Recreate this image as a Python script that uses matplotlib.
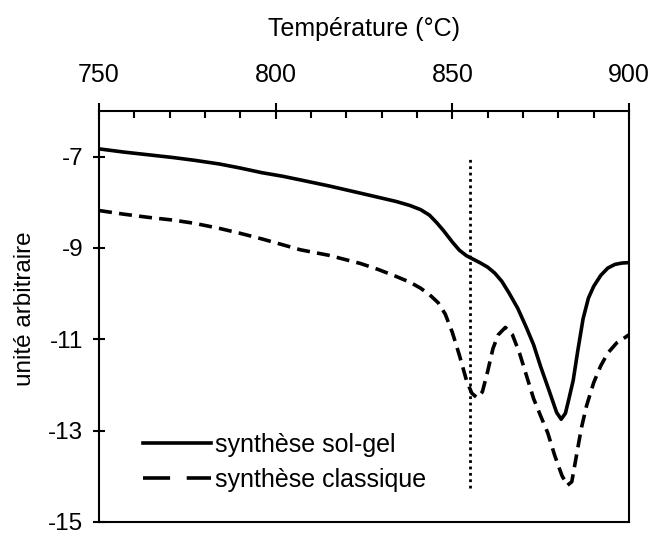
import numpy as np
import matplotlib.pyplot as plt
from matplotlib.ticker import MultipleLocator
from matplotlib.lines import Line2D

plt.rcParams['font.family'] = ['Liberation Sans', 'DejaVu Sans']

# sol-gel curve
temp_solgel = [750, 757, 764, 771, 777, 784, 790, 796, 802, 807, 815, 824, 829, 834, 838, 841,
               843.5, 845.5, 847.5, 850, 852, 854, 856, 858, 860, 862, 864, 866, 868.5, 871, 873,
               875, 877.5, 879.5, 880.8, 882, 883, 884.2, 885.5, 887, 888.5, 890, 892, 894, 896, 898, 900]
val_solgel = [-6.83, -6.90, -6.96, -7.02, -7.08, -7.16, -7.25, -7.35, -7.43, -7.51, -7.64, -7.80,
              -7.89, -7.98, -8.07, -8.16, -8.28, -8.44, -8.62, -8.87, -9.05, -9.17, -9.25, -9.33,
              -9.42, -9.55, -9.73, -9.98, -10.32, -10.75, -11.12, -11.60, -12.15, -12.60, -12.75,
              -12.62, -12.30, -11.90, -11.25, -10.55, -10.10, -9.84, -9.60, -9.44, -9.36, -9.33, -9.32]

# classic curve
temp_classique = [750, 757, 764, 771, 777, 784, 790, 796, 802, 807, 815, 824, 829, 834, 838, 841,
                  843.5, 846, 848, 850, 852, 854, 855.5, 857, 858.5, 860, 861.5, 863, 865, 867, 869,
                  871, 873, 875, 877, 879, 881, 882.5, 883.8, 885, 886.5, 888, 890, 892, 894, 896.5,
                  898.5, 900]
val_classique = [-8.18, -8.26, -8.33, -8.39, -8.46, -8.57, -8.68, -8.80, -8.93, -9.04, -9.16, -9.34,
                 -9.47, -9.62, -9.75, -9.88, -10.02, -10.20, -10.45, -10.85, -11.35, -11.90, -12.18,
                 -12.28, -12.15, -11.70, -11.20, -10.90, -10.74, -10.90, -11.30, -11.80, -12.30,
                 -12.68, -13.05, -13.55, -13.98, -14.20, -14.12, -13.60, -12.95, -12.45, -11.95,
                 -11.58, -11.30, -11.08, -10.98, -10.90]

vline_temp = 855
vline_range = [-14.25, -7]

fig = plt.figure(figsize=(6.54, 5.34), dpi=100)
ax = fig.add_axes([0.1514, 0.0225, 0.8104, 0.7697])

ax.plot(temp_solgel, val_solgel, color='black', lw=2.6)
ax.plot(temp_classique, val_classique, color='black', lw=2.6, dashes=(3.6, 2))
ax.plot([vline_temp, vline_temp], vline_range, color='black', lw=2, linestyle=(0, (1, 1.3)))

ax.set_xlim(750, 900)
ax.set_ylim(-15, -6)
ax.set_xticks([750, 800, 850, 900])
ax.xaxis.set_minor_locator(MultipleLocator(10))
ax.set_yticks([-15, -13, -11, -9, -7])
ax.set_yticklabels(['-15', '-13', '-11', '-9', '-7'])

ax.xaxis.tick_top()
ax.xaxis.set_label_position('top')
ax.tick_params(axis='x', which='major', direction='inout', length=11, width=1.5,
               labelsize=18, pad=12)
ax.tick_params(axis='x', which='minor', direction='in', length=5, width=1.5)
ax.tick_params(axis='y', which='major', direction='inout', length=9, width=1.5,
               labelsize=17.5, pad=7)
for s in ax.spines.values():
    s.set_linewidth(1.5)

ax.set_xlabel('Température (°C)', fontsize=18, labelpad=19)
ax.set_ylabel('unité arbitraire', fontsize=17.5)
ax.yaxis.set_label_coords(-0.118, 0.52)

# legend handles drawn with longer dashes, as in the original
handles = [Line2D([], [], color='black', lw=2.6),
           Line2D([], [], color='black', lw=2.6, dashes=(7.5, 4.6))]
ax.legend(handles, ['synthèse sol-gel', 'synthèse classique'], loc='lower left',
          bbox_to_anchor=(0.06, 0.043), frameon=False, fontsize=18,
          handlelength=2.7, handletextpad=0.15, labelspacing=0.45, borderpad=0)

fig.savefig('out.png', dpi=100)
